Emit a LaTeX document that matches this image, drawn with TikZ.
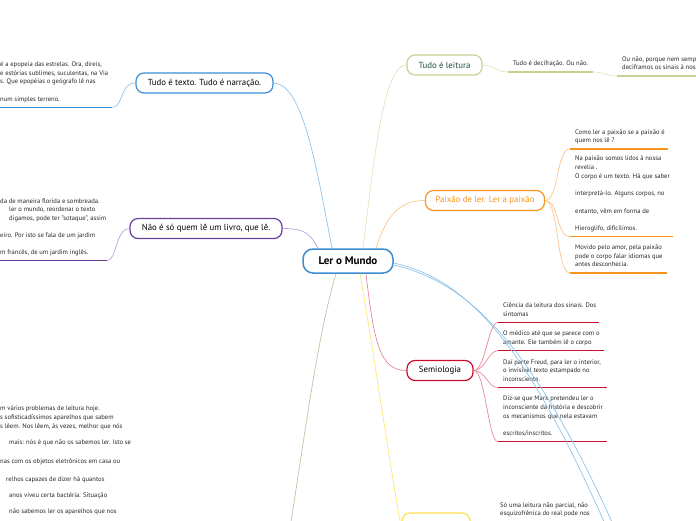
\documentclass[tikz,border=0pt]{standalone}
\usepackage{fontspec}
\setmainfont{PT Sans}
\usetikzlibrary{positioning}

\definecolor{azul}{HTML}{3C8ED3}
\definecolor{azulclaro}{HTML}{8FC3EA}
\definecolor{roxo}{HTML}{6B3FA0}
\definecolor{roxoclaro}{HTML}{B9A3D8}
\definecolor{verde}{HTML}{C3D393}
\definecolor{verdeclaro}{HTML}{DDE5BD}
\definecolor{verdeescuro}{HTML}{1E4F3A}
\definecolor{laranja}{HTML}{F7941D}
\definecolor{laranjaclaro}{HTML}{FBC58A}
\definecolor{vermelho}{HTML}{C8102E}
\definecolor{vermelhoclaro}{HTML}{E58A98}
\definecolor{amarelo}{HTML}{FFE14D}
\definecolor{bege}{HTML}{CBBFA3}
\definecolor{cinza}{HTML}{262626}

\tikzset{
  topico/.style={draw, rounded corners=8pt, line width=1.2pt, inner sep=0pt,
    minimum height=20pt, font=\fontsize{8.8}{10}\selectfont, fill=white},
  nota/.style={align=left, inner xsep=5pt, inner ysep=3.3pt, text=cinza,
    font=\fontsize{6.6}{8.7}\selectfont,
    execute at begin node=\strut, execute at end node=\strut},
  recorte/.style={inner xsep=0pt, inner ysep=3.3pt, text=cinza,
    font=\fontsize{6.6}{8.7}\selectfont},
  ramo/.style={line width=0.7pt},
  sublinha/.style={line width=1.3pt},
}

\begin{document}
\begin{tikzpicture}[x=1pt,y=-1pt]
\useasboundingbox (0,0) rectangle (696,520);
\clip (0,0) rectangle (696,520);

% centro
\node[topico, draw=azul, line width=1.5pt, minimum width=90pt, minimum height=24pt,
  rounded corners=10pt, font=\fontsize{11}{12}\selectfont\bfseries] (mundo) at (348,261) {Ler o Mundo};

% Tudo e texto
\node[topico, draw=azul, minimum width=137pt] (texto) at (204.5,83) {Tudo é texto. Tudo é narração.};
\draw[ramo, azulclaro] ([xshift=-16pt]mundo.north) .. controls +(-16,-84) and +(29,1) .. (texto.east);
\node[recorte, anchor=south west] (textonota) at (0,107.3)
  {\begin{tabular}[b]{@{}l@{}}é a epopeia das estrelas. Ora, direis,\\e estórias sublimes, suculentas, na Via\\s. Que epopéias o geógrafo lê nas\\[8.7pt]num simples terreno.\end{tabular}};
\coordinate (textofim) at (112,107.3);
\draw[sublinha, azul] (textonota.south west) -- (textofim);
\draw[ramo, azulclaro] (texto.west) .. controls +(-16,0) and +(12,0) .. (textofim);

% Nao e so quem le
\node[topico, draw=roxo, minimum width=152pt] (naoeso) at (206,228.5) {Não é só quem lê um livro, que lê.};
\draw[ramo, roxoclaro] ([xshift=-30pt]mundo.north) .. controls +(-8,-16) and +(20,0) .. (naoeso.east);
\node[recorte, anchor=south west] (naoesonota) at (0,260.7)
  {\begin{tabular}[b]{@{}l@{}}da de maneira florida e sombreada.\\\kern9pt ler o mundo, reordenar o texto\\\hbox to 9pt{}digamos, pode ter "sotaque", assim\\[8.3pt]eiro. Por isto se fala de um jardim\\[8.3pt]m francês, de um jardim inglês.\end{tabular}};
\coordinate (naoesofim) at (107,260.7);
\draw[sublinha, roxo] (naoesonota.south west) -- (naoesofim);
\draw[ramo, roxoclaro] (naoeso.west) .. controls +(-14,0) and +(10,0) .. (naoesofim);

% Tudo e leitura
\node[topico, draw=verde, text=verdeescuro, minimum width=75pt] (leitura) at (444.5,65) {Tudo é leitura};
\draw[ramo, verdeclaro] ([xshift=15pt]mundo.north) .. controls +(12,-99) and +(-22,0) .. (leitura.west);
\node[nota, anchor=south west] (decifra) at (508,72) {Tudo é decifração. Ou não.};
\draw[sublinha, verde] (decifra.south west) -- ++(85,0) coordinate (decifrafim);
\draw[ramo, verdeclaro] (leitura.east) .. controls +(12,0) and +(-12,0) .. (decifra.south west);
\node[nota, anchor=south west] (ounao) at (617,76) {Ou não, porque nem semp\\deciframos os sinais à noss};
\draw[sublinha, verde] (ounao.south west) -- ++(80,0);
\draw[ramo, verdeclaro] (decifrafim) .. controls +(12,0) and +(-12,0) .. (ounao.south west);

% Paixao de ler
\node[topico, draw=laranja, text=laranja, minimum width=119pt] (paixao) at (485,200.5) {Paixão de ler. Ler a paixão};
\draw[ramo, laranjaclaro] ([xshift=28pt]mundo.north) .. controls +(11,-34) and +(-25,0) .. (paixao.west);
\node[nota, anchor=south west] (paixao1) at (570,149) {Como ler a paixão se a paixão é\\quem nos lê ?};
\draw[sublinha, laranja] (paixao1.south west) -- ++(98,0);
\node[nota, anchor=south west] (paixao2) at (570,236.7)
  {Na paixão somos lidos à nossa\\revelia .\\O corpo é um texto. Há que saber\\[8.7pt]interpretá-lo. Alguns corpos, no\\[8.7pt]entanto, vêm em forma de\\[8.7pt]Hieroglifo, dificílimos.};
\draw[sublinha, laranja] (paixao2.south west) -- ++(103,0);
\node[nota, anchor=south west] (paixao3) at (570,273) {Movido pelo amor, pela paixão\\pode o corpo falar idiomas que\\antes desconhecia.};
\draw[sublinha, laranja] (paixao3.south west) -- ++(97,0);
\foreach \n in {paixao1,paixao2,paixao3}
  \draw[ramo, laranjaclaro] (paixao.east) .. controls +(14,0) and +(-14,0) .. (\n.south west);

% Semiologia
\node[topico, draw=vermelho, minimum width=66pt] (semio) at (440,370.5) {Semiologia};
\draw[ramo, vermelhoclaro] ([xshift=18pt]mundo.south) .. controls +(8,68) and +(-27,0) .. (semio.west);
\node[nota, anchor=south west] (semio1) at (498,322.3) {Ciência da leitura dos sinais. Dos\\sintomas};
\draw[sublinha, vermelho] (semio1.south west) -- ++(101,0);
\node[nota, anchor=south west] (semio2) at (498,350.7) {O médico até que se parece com o\\amante. Ele também lê o corpo};
\draw[sublinha, vermelho] (semio2.south west) -- ++(106,0);
\node[nota, anchor=south west] (semio3) at (498,387.7) {Daí parte Freud, para ler o interior,\\o invisível texto estampado no\\inconsciente.};
\draw[sublinha, vermelho] (semio3.south west) -- ++(109,0);
\node[nota, anchor=south west] (semio4) at (498,441.7)
  {Diz-se que Marx pretendeu ler o\\inconsciente da história e descobrir\\os mecanismos que nela estavam\\[8.7pt]escritos/inscritos.};
\draw[sublinha, vermelho] (semio4.south west) -- ++(109,0);
\foreach \n in {semio1,semio2,semio3,semio4}
  \draw[ramo, vermelhoclaro] (semio.east) .. controls +(12,0) and +(-10,0) .. (\n.south west);

% ramos azuis para baixo
\coordinate (fora1) at (612,540);
\coordinate (fora2) at (620,540);
\draw[ramo, azulclaro] ([yshift=-2pt]mundo.east) .. controls +(77,17) and +(-82,-190) .. (fora1);
\draw[ramo, azulclaro] ([yshift=-4pt]mundo.east) .. controls +(79,18) and +(-83,-188) .. (fora2);

% ramo amarelo
\node[topico, draw=amarelo, minimum width=68pt, minimum height=30pt] (sintese) at (436,528) {};
\draw[ramo, amarelo!80] ([xshift=12pt]mundo.south) .. controls +(12,68) and +(-8,-40) .. (sintese.west);
\node[nota, anchor=north west] (sonota) at (495,498.8) {Só uma leitura não parcial, não\\esquizofrênica do real pode nos};

% ramo bege
\coordinate (fora3) at (288,540);
\draw[ramo, bege] ([xshift=-12pt]mundo.south) .. controls +(-20,67) and +(15,-90) .. (fora3);
\node[recorte, anchor=north west] (problemas) at (0,401.1)
  {\begin{tabular}[t]{@{}l@{}}m vários problemas de leitura hoje.\\s sofisticadíssimos aparelhos que sabem\\s lêem. Nos lêem, às vezes, melhor que nós\\[7.9pt]\kern9pt mais: nós é que não os sabemos ler. Isto se\\[9.8pt]nas com os objetos eletrônicos em casa ou\\[9.3pt]\kern6pt relhos capazes de dizer há quantos\\[7.8pt]\kern9pt anos viveu certa bactéria. Situação\\[7.3pt]\kern9pt não sabemos ler os aparelhos que nos\end{tabular}};
\end{tikzpicture}
\end{document}
